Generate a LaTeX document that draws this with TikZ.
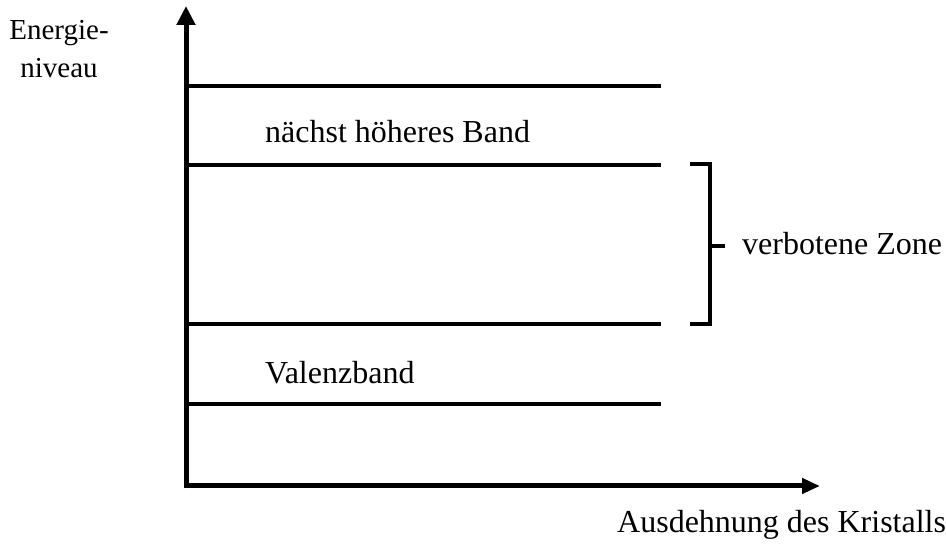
\documentclass[tikz,border=0pt]{standalone}
\usepackage{fontspec}
\setmainfont{Liberation Serif}
\usetikzlibrary{arrows.meta}
\begin{document}
\begin{tikzpicture}[x=1pt,y=1pt,
  yaxis/.style={line width=5pt,-{Triangle[width=18pt,length=19pt]}},
  xaxis/.style={line width=5pt,-{Triangle[width=15pt,length=18pt]}},
  band/.style={line width=4pt},
  brk/.style={line width=4pt},
  lbl/.style={font=\fontsize{32}{38}\selectfont,inner sep=0pt},
  elbl/.style={font=\fontsize{29}{38}\selectfont,inner sep=0pt}]
\useasboundingbox (0,0) rectangle (946,546);
\coordinate (O) at (186,60);
\coordinate (Ytop) at (186,540);
\coordinate (Xend) at (820,60);
\coordinate (Ybot) at (186,57.5);
\coordinate (Xbeg) at (183.5,60);
\draw[yaxis] (Ybot) -- (Ytop);
\draw[xaxis] (Xbeg) -- (Xend);
% bands
\foreach \n/\y in {a/460,b/381,c/222,d/142}{
  \coordinate (\n1) at (188,\y);
  \coordinate (\n2) at (661,\y);
  \draw[band] (\n1) -- (\n2);
}
% bracket
\coordinate (bt) at (690,382);
\coordinate (bb) at (690,222);
\coordinate (btr) at (710,382);
\coordinate (bbr) at (710,222);
\coordinate (bm) at (710,300);
\coordinate (bme) at (725,300);
\draw[brk,line join=miter] (bt) -- (btr) -- (bbr) -- (bb);
\draw[brk] (bm) -- (bme);
% labels
\node[lbl,anchor=west] (hb) at (265,414) {nächst höheres Band};
\node[lbl,anchor=west] (vb) at (265,173) {Valenzband};
\node[lbl,anchor=west] (vz) at (742,302) {verbotene Zone};
\node[elbl,align=center] (en) at (59,497) {Energie-\\niveau};
\node[lbl,anchor=west] (ak) at (617,21) {Ausdehnung des Kristalls};
\end{tikzpicture}
\end{document}
